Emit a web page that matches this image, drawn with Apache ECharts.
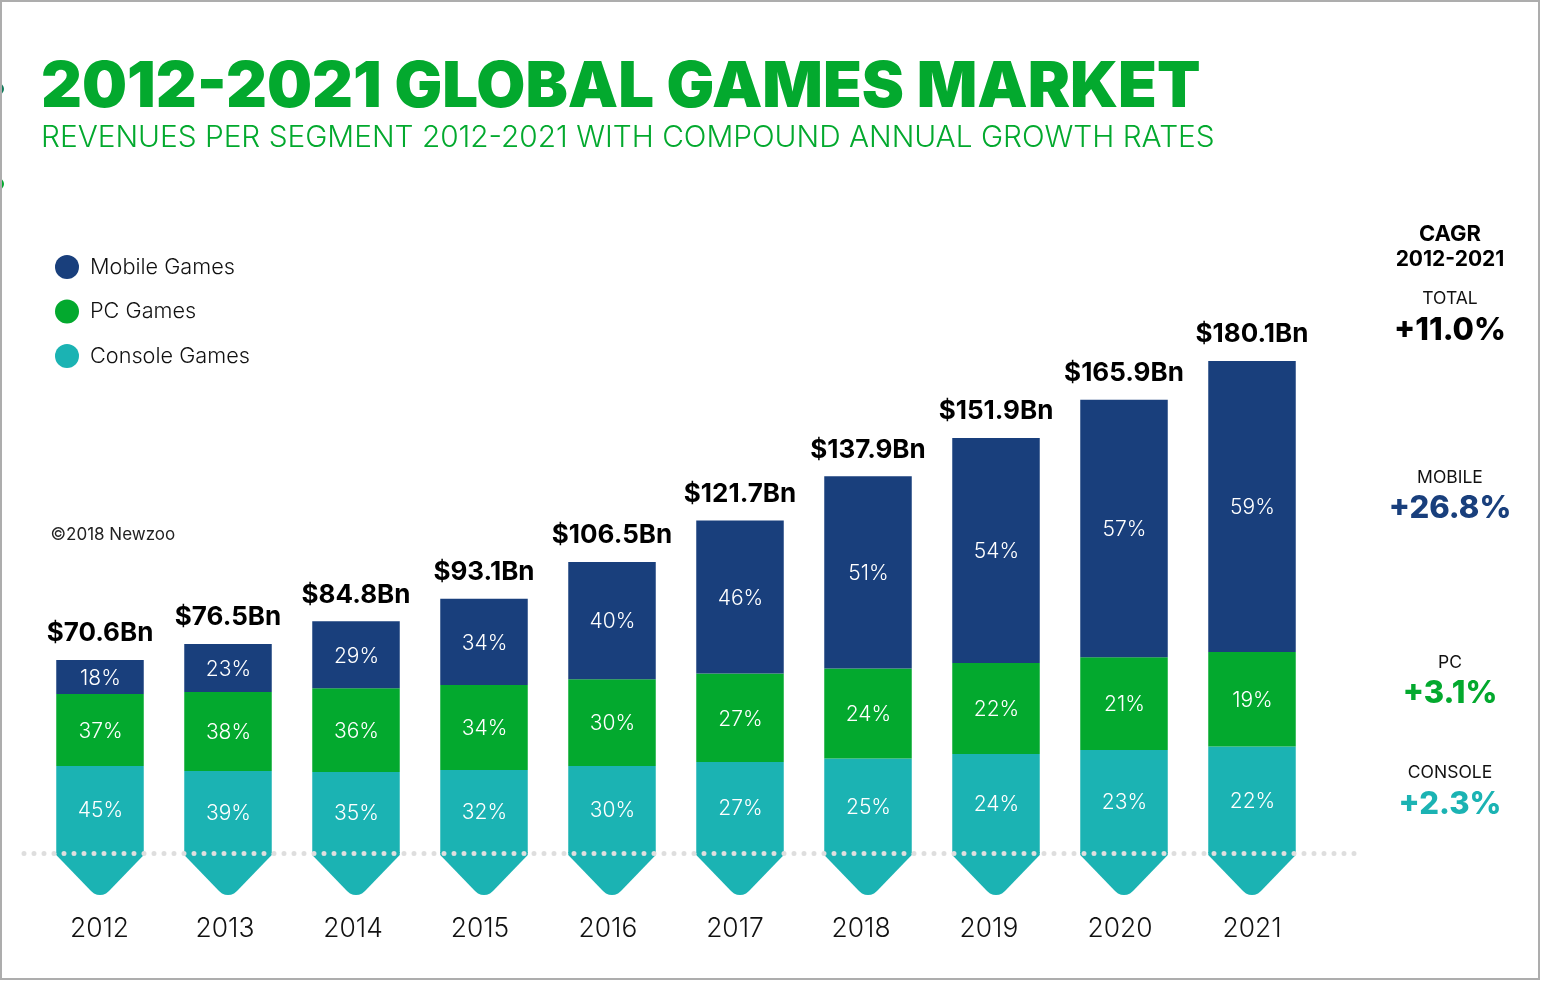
<!DOCTYPE html>
<html>
<head>
<meta charset="utf-8">
<style>html,body{margin:0;padding:0;background:#fff}#c{width:1541px;height:981px}</style>
<script src="https://cdn.jsdelivr.net/npm/echarts@6/dist/echarts.min.js"></script>
</head>
<body>
<div id="c"></div>
<script>
var years = ['2012','2013','2014','2015','2016','2017','2018','2019','2020','2021'];
var mobile = [12.4,17.6,24.5,31.6,42.9,56.0,70.4,82.4,94.3,106.5];
var pc = [26.4,28.9,30.7,31.1,31.8,32.4,32.9,33.3,33.9,34.6];
var consoleGames = [31.8,30.0,29.6,30.4,31.8,33.3,34.6,36.2,37.7,39.0];
var totals = [70.6,76.5,84.8,93.1,106.5,121.7,137.9,151.9,165.9,180.1];
var mobileShare = [18,23,29,34,40,46,51,54,57,59];
var pcShare = [37,38,36,34,30,27,24,22,21,19];
var consoleShare = [45,39,35,32,30,27,25,24,23,22];
var yearLabelShift = [1,6,6,8,8,10,14,14,8,0];
var arrowDepth = 15.4;
var NAVY = '#193F7C', GREEN = '#03A92E', TEAL = '#1BB3B3';
var FONT = 'Inter';

var texts = [
  ['CAGR',1450,233,22,700,'#000'],
  ['2012-2021',1450,258,21,700,'#000'],
  ['TOTAL',1450,297,17.5,400,'#111'],
  ['+11.0%',1450,328,31,800,'#000'],
  ['MOBILE',1450,476,17.5,400,'#111'],
  ['+26.8%',1450,506,31,800,NAVY],
  ['PC',1450,661,17.5,400,'#111'],
  ['+3.1%',1450,691,31,800,GREEN],
  ['CONSOLE',1450,771,17.5,400,'#111'],
  ['+2.3%',1450,802,31,800,TEAL]
];
var titles = [
  {text:'2012-2021 GLOBAL GAMES MARKET',left:41,top:88,padding:0,textAlign:'left',textVerticalAlign:'middle',
   textStyle:{fontFamily:FONT,fontSize:63.4,fontWeight:900,color:GREEN}},
  {text:'REVENUES PER SEGMENT 2012-2021 WITH COMPOUND ANNUAL GROWTH RATES',left:41,top:138,padding:0,textAlign:'left',textVerticalAlign:'middle',
   textStyle:{fontFamily:FONT,fontSize:29.8,fontWeight:300,color:GREEN}},
  {text:'©2018 Newzoo',left:50.5,top:535,padding:0,textAlign:'left',textVerticalAlign:'middle',
   textStyle:{fontFamily:FONT,fontSize:17,fontWeight:400,color:'#222'}}
].concat(texts.map(function(t){
  return {text:t[0],left:t[1],top:t[2]+t[3]*0.08,padding:0,textAlign:'center',textVerticalAlign:'middle',
    textStyle:{fontFamily:FONT,fontSize:t[3],fontWeight:t[4],color:t[5]}};
}));

function shareLabel(arr){
  return {show:true,position:'inside',offset:[0.5,1.5],color:'#fff',fontFamily:FONT,fontSize:21,fontWeight:300,
    formatter:function(p){return arr[p.dataIndex]+'%';}};
}
var rich = {};
years.forEach(function(y,i){ rich['y'+i] = {fontFamily:FONT,fontSize:26.4,fontWeight:300,color:'#111',padding:[0,yearLabelShift[i],0,0]}; });

var chart = echarts.init(document.getElementById('c'),null,{renderer:'canvas'});
chart.setOption({
  animation:false,
  backgroundColor:'#fff',
  title:titles,
  legend:{
    data:['Mobile Games','PC Games','Console Games'],
    orient:'vertical',left:55,top:255,padding:0,itemWidth:24,itemHeight:24,itemGap:20.5,icon:'circle',
    textStyle:{fontFamily:FONT,fontSize:21.7,fontWeight:300,color:'#111',padding:[0,0,0,6]}
  },
  grid:{left:36,width:1280,top:306.6,height:601},
  xAxis:{type:'category',data:years,axisLine:{show:false},axisTick:{show:false},splitLine:{show:false},
    axisLabel:{margin:8,interval:0,formatter:function(v,i){return '{y'+i+'|'+v+'}';},rich:rich}},
  yAxis:{type:'value',min:-20,max:200,show:false,splitLine:{show:false}},
  series:[
    {name:'Console Games',type:'bar',stack:'t',barWidth:87.5,data:consoleGames,itemStyle:{color:TEAL},label:shareLabel(consoleShare),
      markLine:{silent:true,symbol:'none',label:{show:false},z:20,
        lineStyle:{type:[0,10],cap:'round',width:5,color:'#DEDEDE'},
        data:[[{x:24,yAxis:0},{x:1356,yAxis:0}]]}},
    {name:'PC Games',type:'bar',stack:'t',barWidth:87.5,data:pc,itemStyle:{color:GREEN},label:shareLabel(pcShare)},
    {name:'Mobile Games',type:'bar',stack:'t',barWidth:87.5,data:mobile,itemStyle:{color:NAVY},label:shareLabel(mobileShare)},
    {name:'Total',type:'scatter',data:totals,symbolSize:1,itemStyle:{color:'rgba(0,0,0,0)',opacity:1},z:5,
      label:{show:true,position:'top',distance:13,color:'#000',fontFamily:FONT,fontSize:26,fontWeight:700,
        formatter:function(p){return '$'+p.value.toFixed(1)+'Bn';}}},
    {name:'Arrow',type:'custom',clip:false,data:years.map(function(y,i){return [i,arrowDepth];}),
      renderItem:function(params,api){
        var c0 = api.coord([api.value(0),0]);
        var tip = api.coord([api.value(0),-api.value(1)])[1];
        var x = c0[0], y0 = c0[1], h = 43.75;
        var pts = [[x-h,y0-1],[x-h,y0+2],[x-9,tip-4],[x-6,tip-1.5],[x-3,tip-0.3],[x,tip],[x+3,tip-0.3],[x+6,tip-1.5],[x+9,tip-4],[x+h,y0+2],[x+h,y0-1]];
        return {type:'polygon',shape:{points:pts},style:{fill:TEAL}};
      }}
  ],
  graphic:[
    {type:'circle',shape:{cx:-2,cy:89,r:6},style:{fill:'#0E7A5A'},z:1},
    {type:'circle',shape:{cx:-2,cy:184,r:6},style:{fill:GREEN},z:1},
    {type:'rect',shape:{x:1,y:1,width:1538,height:978},style:{fill:'none',stroke:'#ADADAD',lineWidth:2},z:2,silent:true}
  ]
});
</script>
</body>
</html>
